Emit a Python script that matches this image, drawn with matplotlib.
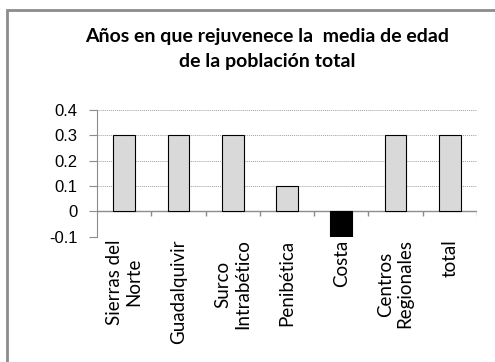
import numpy as np
import matplotlib.pyplot as plt
from matplotlib.patches import Rectangle

# data
regions = ["Sierras del\nNorte", "Guadalquivir", "Surco\nIntrabético", "Penibética",
           "Costa", "Centros\nRegionales", "total"]
years = [0.3, 0.3, 0.3, 0.1, -0.1, 0.3, 0.3]
bar_colors = ["#d9d9d9", "#d9d9d9", "#d9d9d9", "#d9d9d9", "black", "#d9d9d9", "#d9d9d9"]
yticks = [-0.1, 0, 0.1, 0.2, 0.3, 0.4]

fig = plt.figure(figsize=(4.95, 3.62), dpi=100)
ax = fig.add_axes([97/495, 1-236.7/362, 380/495, 126.7/362])

# outer frame of the chart area
fig.patches.append(Rectangle((7/495, -0.05), 1.1, 1-10/362+0.05, transform=fig.transFigure,
                             fill=False, edgecolor="#8c8c8c", linewidth=2, zorder=0))

x = np.arange(len(regions))
ax.bar(x, years, 0.4, color=bar_colors, edgecolor="black", linewidth=0.8, zorder=3)

ax.set_xlim(-0.5, len(regions) - 0.5)
ax.set_ylim(-0.1, 0.4)
ax.set_yticks(yticks)
ax.set_yticklabels(["-0.1", "0", "0.1", "0.2", "0.3", "0.4"], fontsize=12, family="Liberation Sans")
ax.yaxis.grid(True, linestyle=(0, (1, 1)), color="#a0a0a0", linewidth=0.7)
ax.tick_params(axis="y", length=6, color="#8c8c8c", pad=8)

ax.set_xticks(x)
ax.set_xticklabels(regions, rotation=90, fontsize=13.5, family="Lato", multialignment="center",
                   linespacing=1.15)
ax.tick_params(axis="x", length=0, pad=2)

# category axis at zero with boundary ticks
ax.axhline(0, color="#8c8c8c", linewidth=1, zorder=2)
ax.vlines(np.arange(len(regions)) + 0.5, -0.02, 0, color="#8c8c8c", linewidth=1)

for side in ["top", "right", "bottom"]:
    ax.spines[side].set_visible(False)
ax.spines["left"].set_color("#8c8c8c")

fig.text(267/495, 1-49/362, "Años en que rejuvenece la  media de edad\nde la población total",
         ha="center", va="center", fontsize=14, fontweight="bold", family="Lato", linespacing=1.6)

fig.savefig("out.png", dpi=100)
